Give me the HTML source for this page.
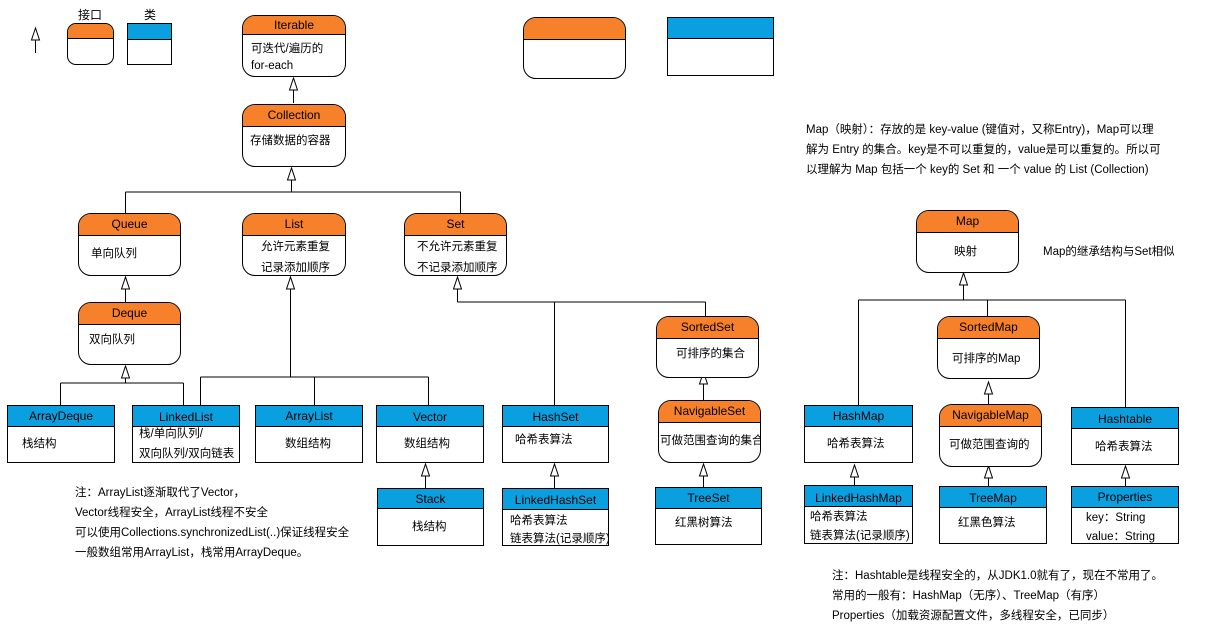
<!DOCTYPE html>
<html><head><meta charset="utf-8"><style>
body{margin:0;width:1206px;height:627px;background:#fff;position:relative;overflow:hidden;font-family:"Liberation Sans","Noto Sans CJK SC",sans-serif;font-size:11.5px;color:#000}
.b{position:absolute;border:1px solid #000;background:#fff;box-sizing:border-box;overflow:hidden}
.i{border-radius:13px}
.h{position:absolute;left:0;right:0;top:0;border-bottom:1px solid #000;text-align:center;font-size:12px}
.i .h{background:#f7802a}
.c .h{background:#0aa0e0}
.t{position:absolute;white-space:nowrap}
svg{position:absolute;left:0;top:0}
</style></head><body>
<svg width="1206" height="627" fill="none" stroke="#000" stroke-width="1">
<g id="lines">
<path d="M35.5 53V40 M293.5 103V90 M291.5 192V180 M125.5 192H460.5 M125.5 192V213 M460.5 192V213
M125.5 302V289 M125.5 383V378 M60.5 383H183.5 M60.5 383V405 M183.5 383V405
M290.5 377V289 M200.5 377H428.5 M200.5 377V405 M314.5 377V405 M428.5 377V405
M425.5 488V476 M457.5 302V289 M457.5 302H705.5 M554.5 302V405 M705.5 302V316
M703.5 400V384 M703.5 488V476 M554.5 488V476
M963.5 300V285 M858.5 300H1125.5 M858.5 300V405 M987.5 300V316 M1125.5 300V407
M988.5 404V394 M854.5 485V477 M988.5 486V478 M1125.5 486V478"/>
</g>
<g fill="#fff">
<path d="M35.5 28l-4 12h8z M293.5 78l-4 12h8z M291.5 168l-4 12h8z M125.5 277l-4 12h8z M125.5 366l-4 12h8z M290.5 277l-4 12h8z M425.5 464l-4 12h8z M457.5 277l-4 12h8z M703.5 372l-4 12h8z M703.5 464l-4 12h8z M554.5 464l-4 12h8z M963.5 273l-4 12h8z M988.5 382l-4 12h8z M854.5 465l-4 12h8z M988.5 466l-4 12h8z M1125.5 466l-4 12h8z"/>
</g>
</svg>

<div class="t" style="left:78px;top:6px;font-size:12px">接口</div>
<div class="t" style="left:144px;top:6px;font-size:12px">类</div>
<div class="b i" style="left:67px;top:23px;width:47px;height:42px;border-radius:9px"><div class="h" style="height:14px"></div></div>
<div class="b c" style="left:127px;top:23px;width:45px;height:42px"><div class="h" style="height:15px"></div></div>

<div class="b i" style="left:242px;top:15px;width:104px;height:62px"><div class="h" style="height:18px;line-height:18px">Iterable</div><div class="t" style="left:8px;top:24px">可迭代/遍历的</div><div class="t" style="left:8px;top:44px">for-each</div></div>
<div class="b i" style="left:242px;top:104px;width:104px;height:63px"><div class="h" style="height:21px;line-height:21px">Collection</div><div class="t" style="left:7px;top:27px">存储数据的容器</div></div>

<div class="b i" style="left:78px;top:213px;width:103px;height:63px"><div class="h" style="height:21px;line-height:21px">Queue</div><div class="t" style="left:12px;top:31px">单向队列</div></div>
<div class="b i" style="left:242px;top:213px;width:104px;height:63px"><div class="h" style="height:21px;line-height:21px">List</div><div class="t" style="left:18px;top:24px">允许元素重复</div><div class="t" style="left:18px;top:45px">记录添加顺序</div></div>
<div class="b i" style="left:404px;top:213px;width:103px;height:63px"><div class="h" style="height:21px;line-height:21px">Set</div><div class="t" style="left:12px;top:24px">不允许元素重复</div><div class="t" style="left:12px;top:45px">不记录添加顺序</div></div>
<div class="b i" style="left:78px;top:302px;width:103px;height:63px"><div class="h" style="height:21px;line-height:21px">Deque</div><div class="t" style="left:10px;top:28px">双向队列</div></div>

<div class="b c" style="left:7px;top:405px;width:108px;height:58px"><div class="h" style="height:20px;line-height:20px">ArrayDeque</div><div class="t" style="left:14px;top:29px">栈结构</div></div>
<div class="b c" style="left:132px;top:405px;width:108px;height:58px"><div class="h" style="height:20px;line-height:22px">LinkedList</div><div class="t" style="left:6px;top:19px">栈/单向队列/</div><div class="t" style="left:6px;top:39px">双向队列/双向链表</div></div>
<div class="b c" style="left:255px;top:405px;width:108px;height:58px"><div class="h" style="height:20px;line-height:20px">ArrayList</div><div class="t" style="left:29px;top:29px">数组结构</div></div>
<div class="b c" style="left:376px;top:405px;width:108px;height:58px"><div class="h" style="height:20px;line-height:22px">Vector</div><div class="t" style="left:27px;top:29px">数组结构</div></div>
<div class="b c" style="left:377px;top:488px;width:107px;height:58px"><div class="h" style="height:19px;line-height:20px">Stack</div><div class="t" style="left:34px;top:29px">栈结构</div></div>

<div class="t" style="left:75px;top:483px;line-height:20px">注：ArrayList逐渐取代了Vector，<br>Vector线程安全，ArrayList线程不安全<br>可以使用Collections.synchronizedList(..)保证线程安全<br>一般数组常用ArrayList，栈常用ArrayDeque。</div>

<div class="b c" style="left:502px;top:405px;width:107px;height:58px"><div class="h" style="height:20px;line-height:22px">HashSet</div><div class="t" style="left:12px;top:25px">哈希表算法</div></div>
<div class="b c" style="left:502px;top:488px;width:107px;height:58px"><div class="h" style="height:20px;line-height:22px">LinkedHashSet</div><div class="t" style="left:7px;top:23px">哈希表算法</div><div class="t" style="left:7px;top:41px">链表算法(记录顺序)</div></div>
<div class="b i" style="left:656px;top:316px;width:103px;height:62px"><div class="h" style="height:21px;line-height:21px">SortedSet</div><div class="t" style="left:19px;top:28px">可排序的集合</div></div>
<div class="b i" style="left:658px;top:400px;width:103px;height:63px"><div class="h" style="height:21px;line-height:21px">NavigableSet</div><div class="t" style="left:1px;top:31px">可做范围查询的集合</div></div>
<div class="b c" style="left:655px;top:487px;width:107px;height:58px"><div class="h" style="height:20px;line-height:20px">TreeSet</div><div class="t" style="left:19px;top:26px">红黑树算法</div></div>

<div class="b i" style="left:523px;top:17px;width:103px;height:62px"><div class="h" style="height:21px"></div></div>
<div class="b c" style="left:667px;top:17px;width:107px;height:59px"><div class="h" style="height:20px"></div></div>

<div class="t" style="left:806px;top:120px;line-height:20px">Map（映射）：存放的是 key-value (键值对，又称Entry)，Map可以理<br>解为 Entry 的集合。key是不可以重复的，value是可以重复的。所以可<br>以理解为 Map 包括一个 key的 Set 和 一个 value 的 List (Collection)</div>
<div class="b i" style="left:916px;top:210px;width:103px;height:63px"><div class="h" style="height:21px;line-height:21px">Map</div><div class="t" style="left:37px;top:32px">映射</div></div>
<div class="t" style="left:1043px;top:243px">Map的继承结构与Set相似</div>

<div class="b i" style="left:937px;top:316px;width:103px;height:63px"><div class="h" style="height:21px;line-height:21px">SortedMap</div><div class="t" style="left:14px;top:33px">可排序的Map</div></div>
<div class="b i" style="left:939px;top:404px;width:103px;height:63px"><div class="h" style="height:21px;line-height:21px">NavigableMap</div><div class="t" style="left:9px;top:31px">可做范围查询的</div></div>
<div class="b c" style="left:804px;top:405px;width:109px;height:58px"><div class="h" style="height:20px;line-height:20px">HashMap</div><div class="t" style="left:22px;top:29px">哈希表算法</div></div>
<div class="b c" style="left:1071px;top:407px;width:108px;height:58px"><div class="h" style="height:20px;line-height:22px">Hashtable</div><div class="t" style="left:23px;top:30px">哈希表算法</div></div>
<div class="b c" style="left:804px;top:485px;width:109px;height:59px"><div class="h" style="height:20px;line-height:24px">LinkedHashMap</div><div class="t" style="left:5px;top:22px">哈希表算法</div><div class="t" style="left:5px;top:41px">链表算法(记录顺序)</div></div>
<div class="b c" style="left:939px;top:486px;width:108px;height:58px"><div class="h" style="height:20px;line-height:22px">TreeMap</div><div class="t" style="left:18px;top:27px">红黑色算法</div></div>
<div class="b c" style="left:1071px;top:486px;width:108px;height:58px"><div class="h" style="height:20px;line-height:20px">Properties</div><div class="t" style="left:14px;top:22px">key：String</div><div class="t" style="left:14px;top:41px">value：String</div></div>

<div class="t" style="left:832px;top:566px;line-height:20px">注：Hashtable是线程安全的，从JDK1.0就有了，现在不常用了。<br>常用的一般有：HashMap（无序）、TreeMap（有序）<br>Properties（加载资源配置文件，多线程安全，已同步）</div>
</body></html>
